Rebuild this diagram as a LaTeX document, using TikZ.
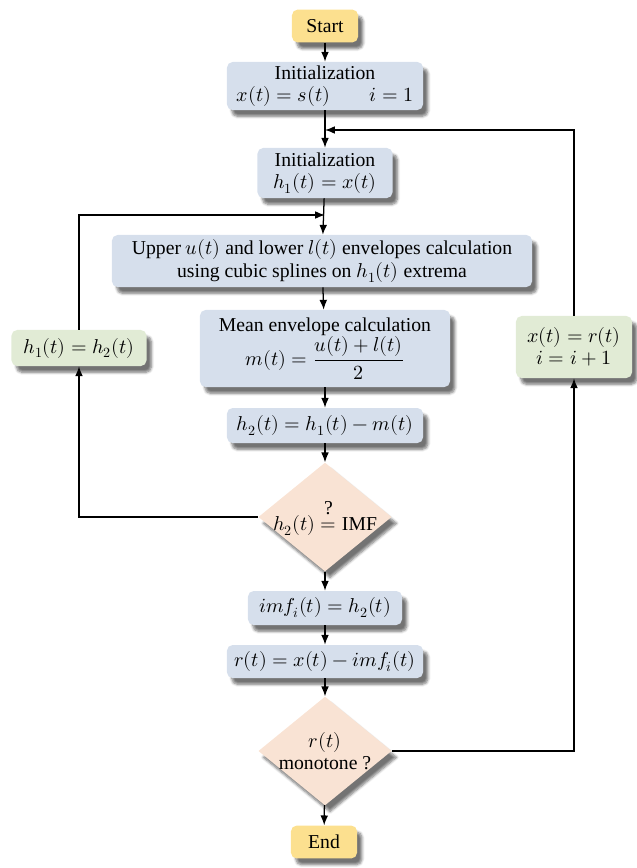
\documentclass[tikz,border=0pt]{standalone}
\usepackage{amsmath}
\usepackage{fontspec}
\usepackage{unicode-math}
\setmainfont{Liberation Serif}
\setmathfont{Latin Modern Math}[Scale=1.02]
\usetikzlibrary{shapes.geometric,arrows.meta,shadows.blur}
\definecolor{procblue}{HTML}{D6DFEC}
\definecolor{loopgreen}{HTML}{E1EBD5}
\definecolor{testpeach}{HTML}{F9E3D4}
\definecolor{termyellow}{HTML}{FCE08F}
\begin{document}
\begin{tikzpicture}[
  x=0.025cm,
  y=-0.025cm,
  font=\fontsize{14}{16}\selectfont,
  shade/.style={blur shadow={shadow xshift=3.5pt,shadow yshift=-4.5pt,shadow opacity=55,shadow blur steps=6}},
  term/.style={rectangle,rounded corners=4pt,fill=termyellow,shade,minimum width=1.65cm,minimum height=0.82cm},
  proc/.style={rectangle,rounded corners=4pt,fill=procblue,shade,align=center,inner sep=2pt},
  upd/.style={rectangle,rounded corners=4pt,fill=loopgreen,shade,align=center,inner sep=2pt},
  test/.style={diamond,fill=testpeach,shade,inner sep=0pt,minimum width=3.33cm,minimum height=2.72cm},
  arr/.style={-{Latex[length=7pt,width=5.5pt]},line width=0.9pt}
]
\useasboundingbox (0,0) rectangle (637,868);

\node[term] (start) at (325,26) {Start};
\node[proc,minimum width=4.9cm,minimum height=1.2cm] (init1) at (325,86)
  {Initialization\\ $x(t) = s(t) \qquad i = 1$};
\coordinate (j1) at (325,130);
\node[proc,minimum width=3.375cm,minimum height=1.25cm] (init2) at (325,173)
  {Initialization\\ $h_1(t) = x(t)$};
\coordinate (j2) at (325,215);
\node[proc,minimum width=10.5cm,minimum height=1.3cm] (env) at (322,261)
  {Upper $u(t)$ and lower $l(t)$ envelopes calculation\\ using cubic splines on $h_1(t)$ extrema};
\node[proc,minimum width=6.25cm,minimum height=1.925cm] (mean) at (325,348.5)
  {Mean envelope calculation\\ $m(t) = \dfrac{u(t) + l(t)}{2}$};
\node[proc,minimum width=4.9cm,minimum height=0.875cm] (diff) at (325,425.5)
  {$h_2(t) = h_1(t) - m(t)$};
\node[test,label={center:$h_2(t) \overset{\raisebox{3pt}{?}}{=} \text{IMF}$}] (isimf) at (325,517) {};
\node[proc,minimum width=3.85cm,minimum height=0.85cm] (imf) at (325,608)
  {$imf_i(t) = h_2(t)$};
\node[proc,minimum width=4.9cm,minimum height=0.825cm] (res) at (325,661.5)
  {$r(t) = x(t) - imf_i(t)$};
\node[test,label={[align=center]center:$r(t)$\\ monotone ?}] (mono) at (325,751) {};
\node[term] (end) at (324,842) {End};

\node[upd,minimum width=3.375cm,minimum height=0.9cm] (sift) at (79,348) {$h_1(t) = h_2(t)$};
\node[upd,minimum width=2.9cm,minimum height=1.55cm] (next) at (574,347)
  {$x(t) = r(t)$\\ $i = i + 1$};

% main path
\draw[arr] (start) -- (init1);
\draw[arr] (init1) -- (init2);
\draw[arr] (init2) -- (env);
\draw[arr] (env) -- (mean);
\draw[arr] (mean) -- (diff);
\draw[arr] (diff) -- (isimf);
\draw[arr] (isimf) -- (imf);
\draw[arr] (imf) -- (res);
\draw[arr] (res) -- (mono);
\draw[arr] (mono) -- (end);

% loops
\draw[arr] (isimf.west) -| (sift.south);
\draw[arr] (sift.north) |- (j2);
\draw[arr] (mono.east) -| (next.south);
\draw[arr] (next.north) |- (j1);
\end{tikzpicture}
\end{document}
